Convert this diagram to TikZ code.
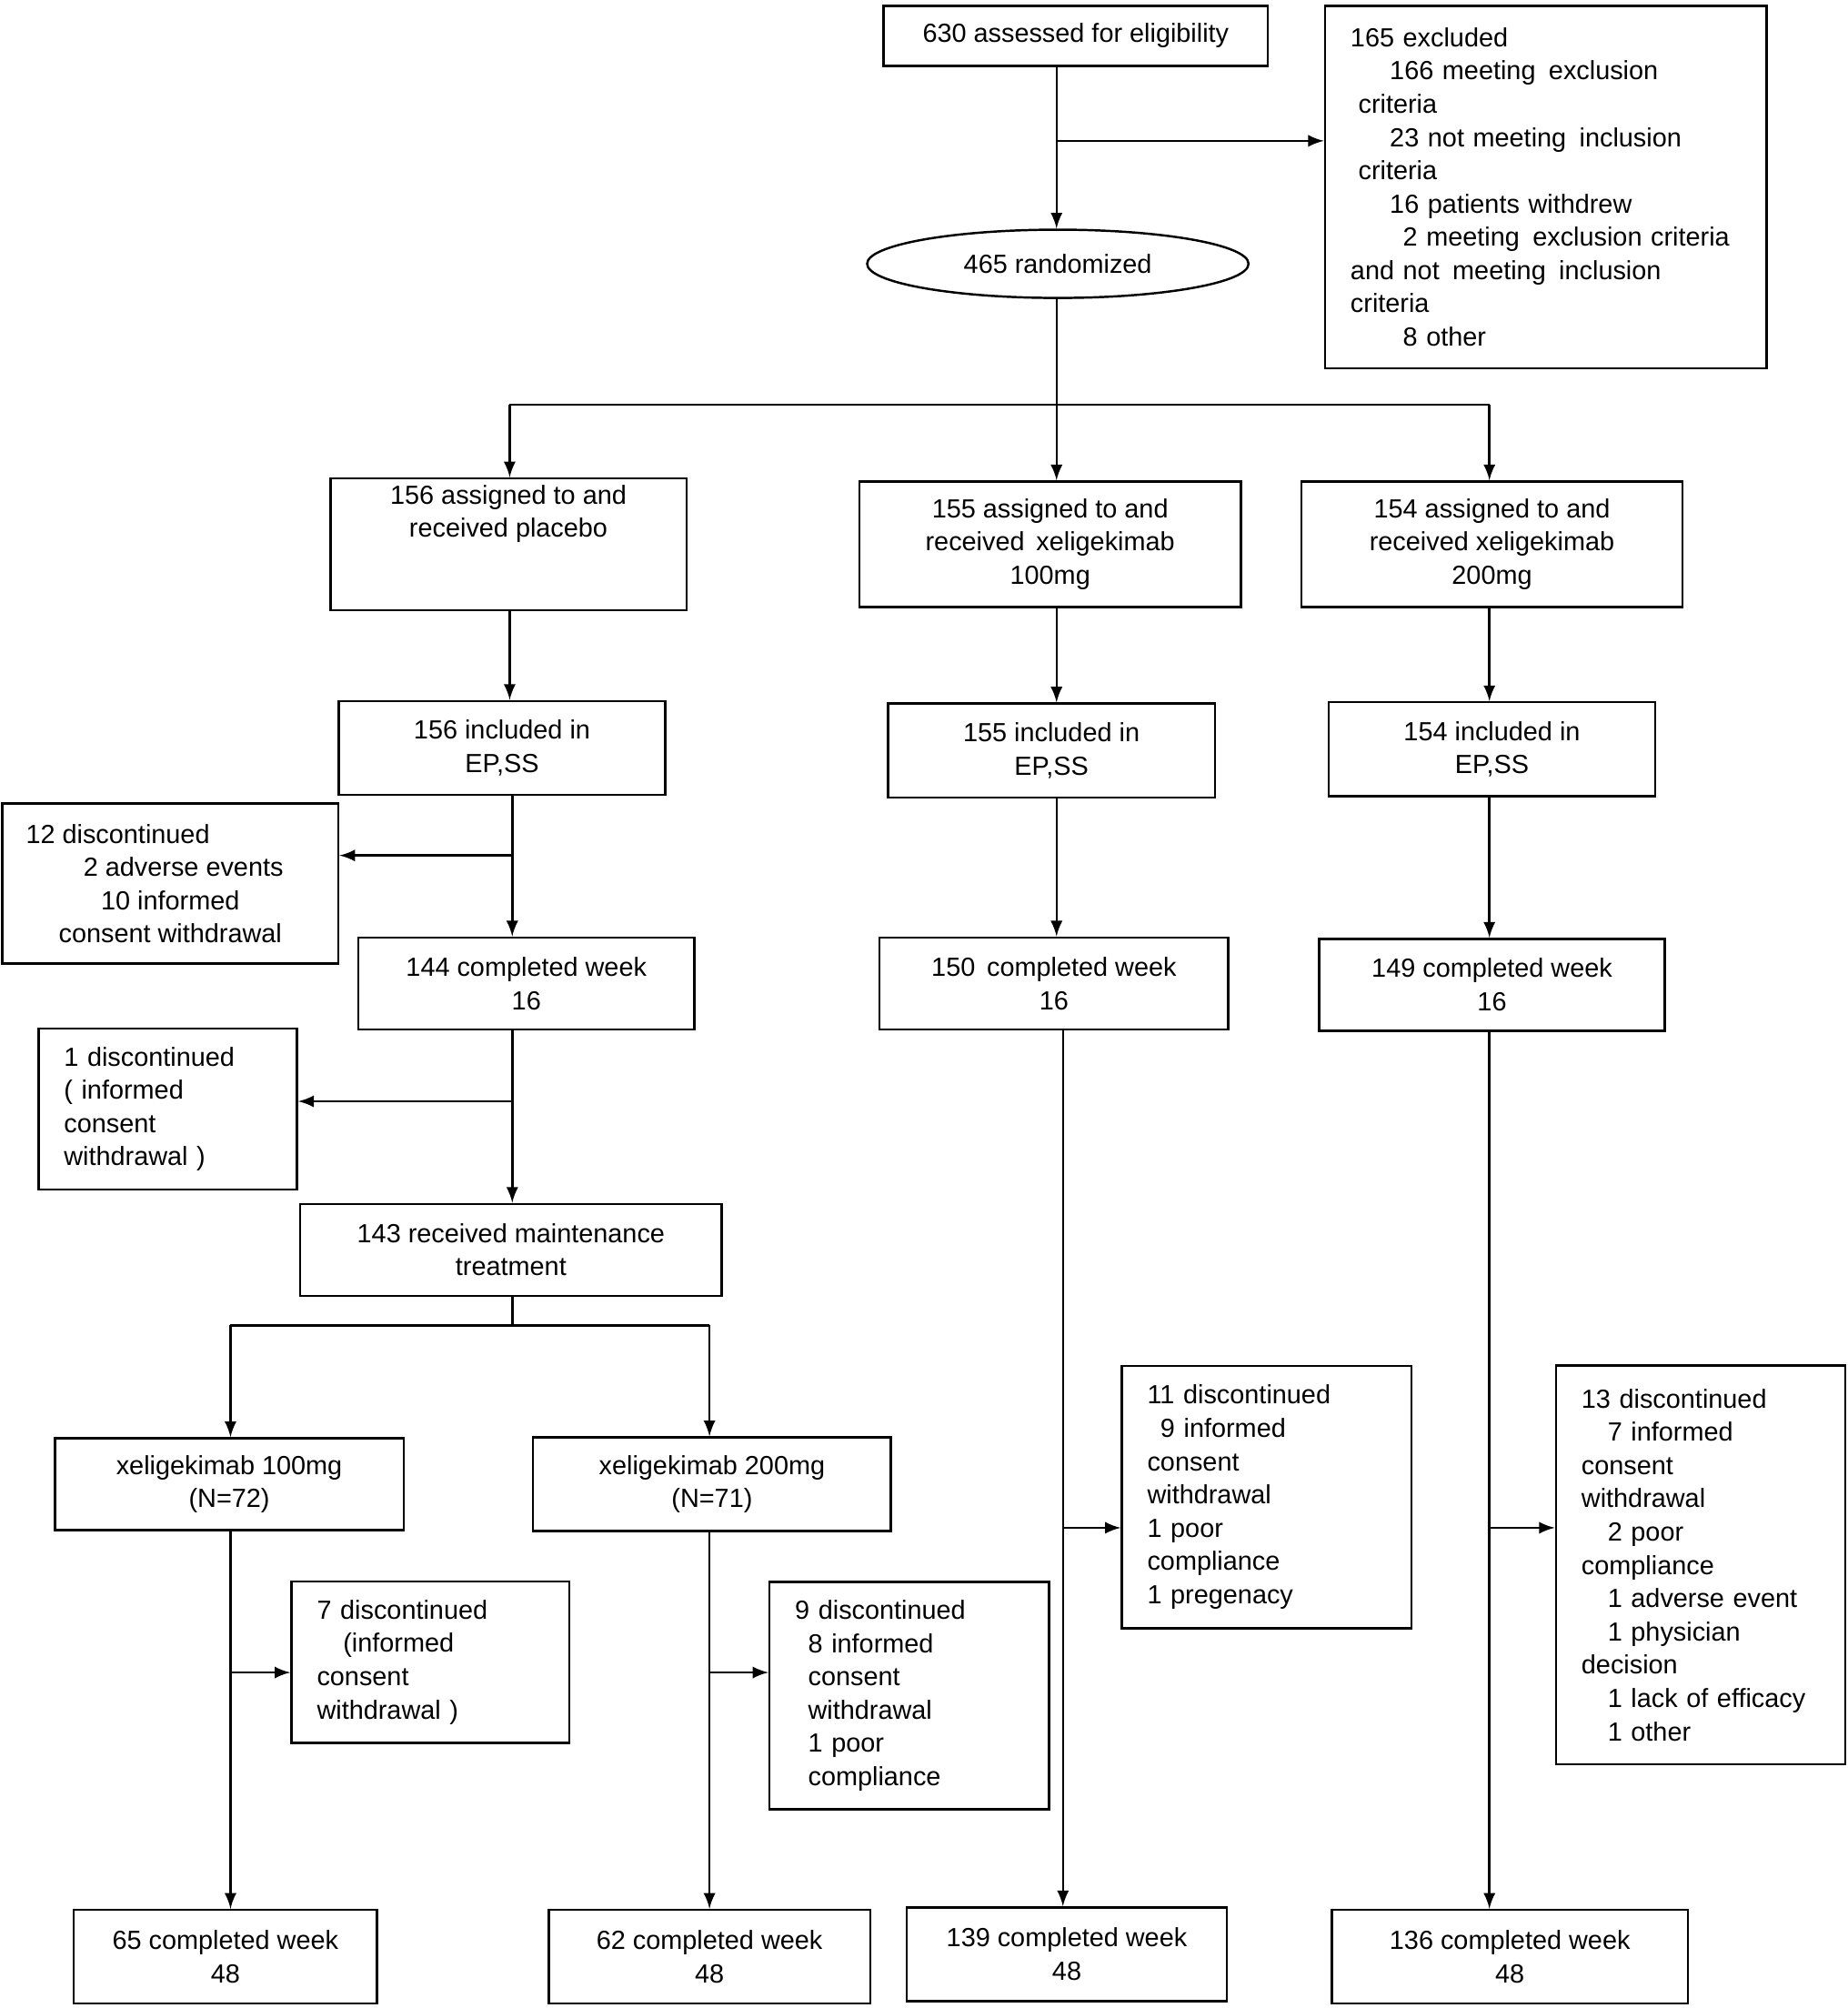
\documentclass[tikz,border=0pt]{standalone}
\usepackage{fontspec}
\setmainfont{Liberation Sans}
\usetikzlibrary{arrows, shapes.geometric}

\begin{document}
\begin{tikzpicture}[x=0.01407cm, y=-0.01407cm,
every node/.style={font=\fontsize{8.2}{10.4}\selectfont},
box/.style 2 args={draw, line width=0.7pt, minimum width=#1, minimum height=#2, align=center, inner sep=2pt},
lbox/.style 2 args={draw, line width=0.7pt, minimum width=#1, minimum height=#2, text width=#1-0.56cm, align=left, inner xsep=0.28cm},
arr/.style={line width=0.7pt, -latex},
ln/.style={line width=0.7pt}]
\useasboundingbox (0,0) rectangle (1443,1568);
%================================================================
%	Boxes
\node[box={4.22cm}{0.66cm}] (elig) at (840,28) {630 assessed for eligibility};
\node[lbox={4.85cm}{3.98cm}] (excl) at (1207,146) {165 excluded\\
\hspace*{1.5em}166 meeting\, exclusion\\ \hspace*{0.3em}criteria\\
\hspace*{1.5em}23 not meeting\, inclusion\\ \hspace*{0.3em}criteria\\
\hspace*{1.5em}16 patients withdrew\\
\hspace*{2em}2 meeting\, exclusion criteria\\ and not\, meeting\, inclusion\\ criteria\\
\hspace*{2em}8 other};
\node[draw, ellipse, line width=0.7pt, minimum width=4.19cm, minimum height=0.75cm] (rand) at (826,206) {465 randomized};

\node[box={3.91cm}{1.38cm}] (plac) at (397,425) {156 assigned to and\\received placebo\\[10.4pt]};
\node[box={4.19cm}{1.38cm}] (xa) at (820,425) {155 assigned to and\\received\, xeligekimab\\100mg};
\node[box={4.19cm}{1.38cm}] (xb) at (1165,425) {154 assigned to and\\received xeligekimab\\200mg};

\node[box={3.59cm}{1.03cm}] (epa) at (392,584) {156 included in\\EP,SS};
\node[box={3.59cm}{1.03cm}] (epb) at (821,586) {155 included in\\EP,SS};
\node[box={3.59cm}{1.03cm}] (epc) at (1165,585) {154 included in\\EP,SS};

\node[box={3.69cm}{1.76cm}] (disca) at (133,690) {12 discontinued\hspace*{4em}\\\hspace*{1em}2 adverse events\\10 informed\hspace*{4.5em}\\ consent withdrawal};

\node[box={3.69cm}{1.01cm}] (wka) at (411,768) {144 completed week\\16};
\node[box={3.83cm}{1.01cm}] (wkb) at (823,768) {150\, completed week\\16};
\node[box={3.80cm}{1.01cm}] (wkc) at (1165,769) {149 completed week\\16};

\node[lbox={2.84cm}{1.77cm}] (discb) at (131,866) {1 discontinued\\( informed\\consent\\withdrawal )};
\node[box={4.63cm}{1.01cm}] (mnt) at (399,976) {143 received maintenance\\treatment};

\node[box={3.83cm}{1.01cm}] (xc) at (179,1159) {xeligekimab 100mg\\(N=72)};
\node[box={3.93cm}{1.03cm}] (xd) at (556,1159) {xeligekimab 200mg\\(N=71)};

\node[lbox={3.18cm}{2.88cm}] (d11) at (989,1169) {11 discontinued\\ \hspace*{0.5em}9 informed\\consent\\withdrawal\\1 poor\\compliance\\1 pregenacy};
\node[lbox={3.18cm}{4.38cm}] (d13) at (1328,1222) {13 discontinued\\ \hspace*{1em}7 informed\\consent\\withdrawal\\ \hspace*{1em}2 poor\\compliance\\ \hspace*{1em}1 adverse event\\ \hspace*{1em}1 physician\\decision\\ \hspace*{1em}1 lack of efficacy\\ \hspace*{1em}1 other};
\node[lbox={3.05cm}{1.77cm}] (d7) at (336,1298) {7 discontinued\\ \hspace*{1em}(informed\\consent\\withdrawal )};
\node[lbox={3.07cm}{2.50cm}] (d9) at (710,1324) {9 discontinued\\ \hspace*{0.5em}8 informed\\ \hspace*{0.5em}consent\\ \hspace*{0.5em}withdrawal\\ \hspace*{0.5em}1 poor\\ \hspace*{0.5em}compliance};

\node[box={3.33cm}{1.03cm}] (fa) at (176,1528) {65 completed week\\48};
\node[box={3.53cm}{1.03cm}] (fb) at (554,1528) {62 completed week\\48};
\node[box={3.52cm}{1.03cm}] (fc) at (833,1526) {139 completed week\\48};
\node[box={3.91cm}{1.03cm}] (fd) at (1179,1528) {136 completed week\\48};
%================================================================
%	Lines
\coordinate (e1) at (825,110);
\coordinate (s1) at (825,316);
\coordinate (sl) at (398,316);
\coordinate (sr) at (1163,316);
\coordinate (a1) at (400,668);
\coordinate (a2) at (400,860);
\coordinate (m1) at (400,1035);
\coordinate (ml) at (180,1035);
\coordinate (mr) at (554,1035);
\coordinate (b1) at (180,1306);
\coordinate (b2) at (554,1306);
\coordinate (b3) at (830,1193);
\coordinate (b4) at (1163,1193);

\draw[arr] (elig.south -| e1) -- (rand.north -| e1);
\draw[arr] (e1) -- (excl.west |- e1);
\draw[ln] (rand.south -| s1) -- (s1);
\draw[ln] (sl) -- (sr);
\draw[arr] (sl) -- (plac.north -| sl);
\draw[arr] (s1) -- (xa.north -| s1);
\draw[arr] (sr) -- (xb.north -| sr);

\draw[arr] (plac.south -| sl) -- (epa.north -| sl);
\draw[arr] (epa.south -| a1) -- (wka.north -| a1);
\draw[arr] (a1) -- (disca.east |- a1);
\draw[arr] (wka.south -| a2) -- (mnt.north -| a2);
\draw[arr] (a2) -- (discb.east |- a2);
\draw[ln] (mnt.south -| m1) -- (m1);
\draw[ln] (ml) -- (mr);
\draw[arr] (ml) -- (xc.north -| ml);
\draw[arr] (mr) -- (xd.north -| mr);
\draw[arr] (xc.south -| b1) -- (fa.north -| b1);
\draw[arr] (b1) -- (d7.west |- b1);
\draw[arr] (xd.south -| b2) -- (fb.north -| b2);
\draw[arr] (b2) -- (d9.west |- b2);

\draw[arr] (xa.south -| s1) -- (epb.north -| s1);
\draw[arr] (epb.south -| s1) -- (wkb.north -| s1);
\draw[arr] (wkb.south -| b3) -- (fc.north -| b3);
\draw[arr] (b3) -- (d11.west |- b3);

\draw[arr] (xb.south -| sr) -- (epc.north -| sr);
\draw[arr] (epc.south -| sr) -- (wkc.north -| sr);
\draw[arr] (wkc.south -| b4) -- (fd.north -| b4);
\draw[arr] (b4) -- (d13.west |- b4);
%================================================================
\end{tikzpicture}
\end{document}
